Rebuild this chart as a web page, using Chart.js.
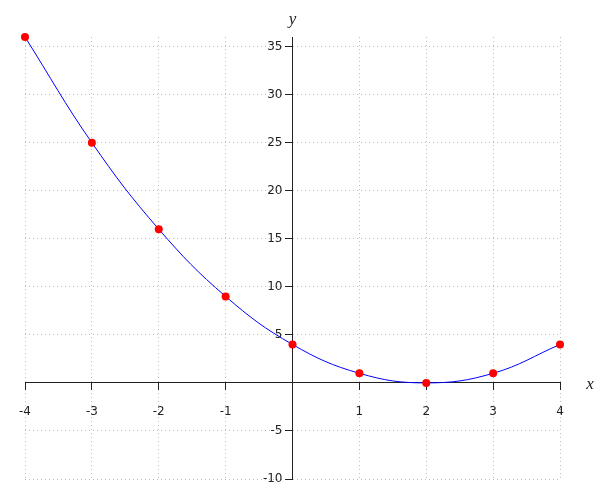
<!DOCTYPE html>
<html>
<head>
<meta charset="utf-8">
<script src="https://cdn.jsdelivr.net/npm/chart.js@4/dist/chart.umd.min.js"></script>
<style>
  body { margin: 0; background: #fff; }
  #wrap { width: 600px; height: 500px; }
</style>
</head>
<body>
<div id="wrap"><canvas id="parabel" width="600" height="500"></canvas></div>
<script>
// punkte der parabel
const xValues = [-4, -3, -2, -1, 0, 1, 2, 3, 4];
const yValues = [36, 25, 16, 9, 4, 1, 0, 1, 4];
const xTicks = [-4, -3, -2, -1, 0, 1, 2, 3, 4];
const yTicks = [-10, -5, 0, 5, 10, 15, 20, 25, 30, 35];
const xTitle = 'x';
const yTitle = 'y';

(() => {
  'use strict'

  const tickFont = { family: 'DejaVu Sans', size: 12 }

  // y-beschriftung links neben der achse (chart.js setzt sie sonst direkt auf die linie)
  const yLabels = {
    id: 'yLabels',
    afterDraw(chart) {
      const c = chart.ctx
      const sx = chart.scales.x
      const sy = chart.scales.y
      const x0 = sx.getPixelForValue(0)
      c.save()
      c.fillStyle = '#222'
      c.font = '12px "DejaVu Sans"'
      c.textAlign = 'right'
      c.textBaseline = 'middle'
      yTicks.forEach((v) => {
        if (v === 0) return
        c.fillText(String(v), x0 - 10, sy.getPixelForValue(v))
      })
      c.restore()
    }
  }

  // achsen-beschriftung x / y
  const axisTitles = {
    id: 'axisTitles',
    afterDraw(chart) {
      const c = chart.ctx
      const sx = chart.scales.x
      const sy = chart.scales.y
      c.save()
      c.fillStyle = '#222'
      c.font = 'italic 17px "Liberation Serif"'
      c.textAlign = 'center'
      c.textBaseline = 'middle'
      c.fillText(xTitle, sx.right + 30, sy.getPixelForValue(0) + 2)
      c.fillText(yTitle, sx.getPixelForValue(0), sy.top - 17)
      c.restore()
    }
  }

  const ctx = document.getElementById('parabel')
  // eslint-disable-next-line no-unused-vars
  const myChart = new Chart(ctx, {
    type: 'line',
    data: {
      datasets: [{
        data: xValues.map((x, i) => ({ x: x, y: yValues[i] })),
        borderColor: '#0000ff',
        borderWidth: 1,
        tension: 0.4,
        pointRadius: 4,
        pointBackgroundColor: '#ff0000',
        pointBorderColor: '#ff0000',
        pointBorderWidth: 0,
        clip: false
      }]
    },
    options: {
      responsive: false,
      animation: false,
      layout: { padding: { left: 25, right: 40, top: 37, bottom: 21 } },
      plugins: {
        legend: { display: false },
        tooltip: { enabled: false }
      },
      scales: {
        x: {
          type: 'linear',
          position: { y: 0 },
          min: -4,
          max: 4,
          afterBuildTicks: (s) => { s.ticks = xTicks.map(v => ({ value: v })) },
          afterFit: (s) => { s.height = 0 },
          grid: {
            color: '#bdbdbd',
            tickColor: '#222',
            tickLength: 7,
            tickBorderDash: []
          },
          border: { color: '#222', width: 1, dash: [1, 3] },
          ticks: {
            font: tickFont,
            color: '#222',
            padding: 15,
            maxRotation: 0,
            callback: (v) => (v === 0 ? '' : v)
          }
        },
        y: {
          type: 'linear',
          position: { x: 0 },
          min: -10,
          max: 36,
          afterBuildTicks: (s) => { s.ticks = yTicks.map(v => ({ value: v })) },
          afterFit: (s) => { s.width = 0 },
          grid: {
            color: '#bdbdbd',
            tickColor: '#222',
            tickLength: 7,
            tickBorderDash: []
          },
          border: { color: '#222', width: 1, dash: [1, 3] },
          ticks: { display: false }
        }
      }
    },
    plugins: [yLabels, axisTitles]
  })
})()
</script>
</body>
</html>
